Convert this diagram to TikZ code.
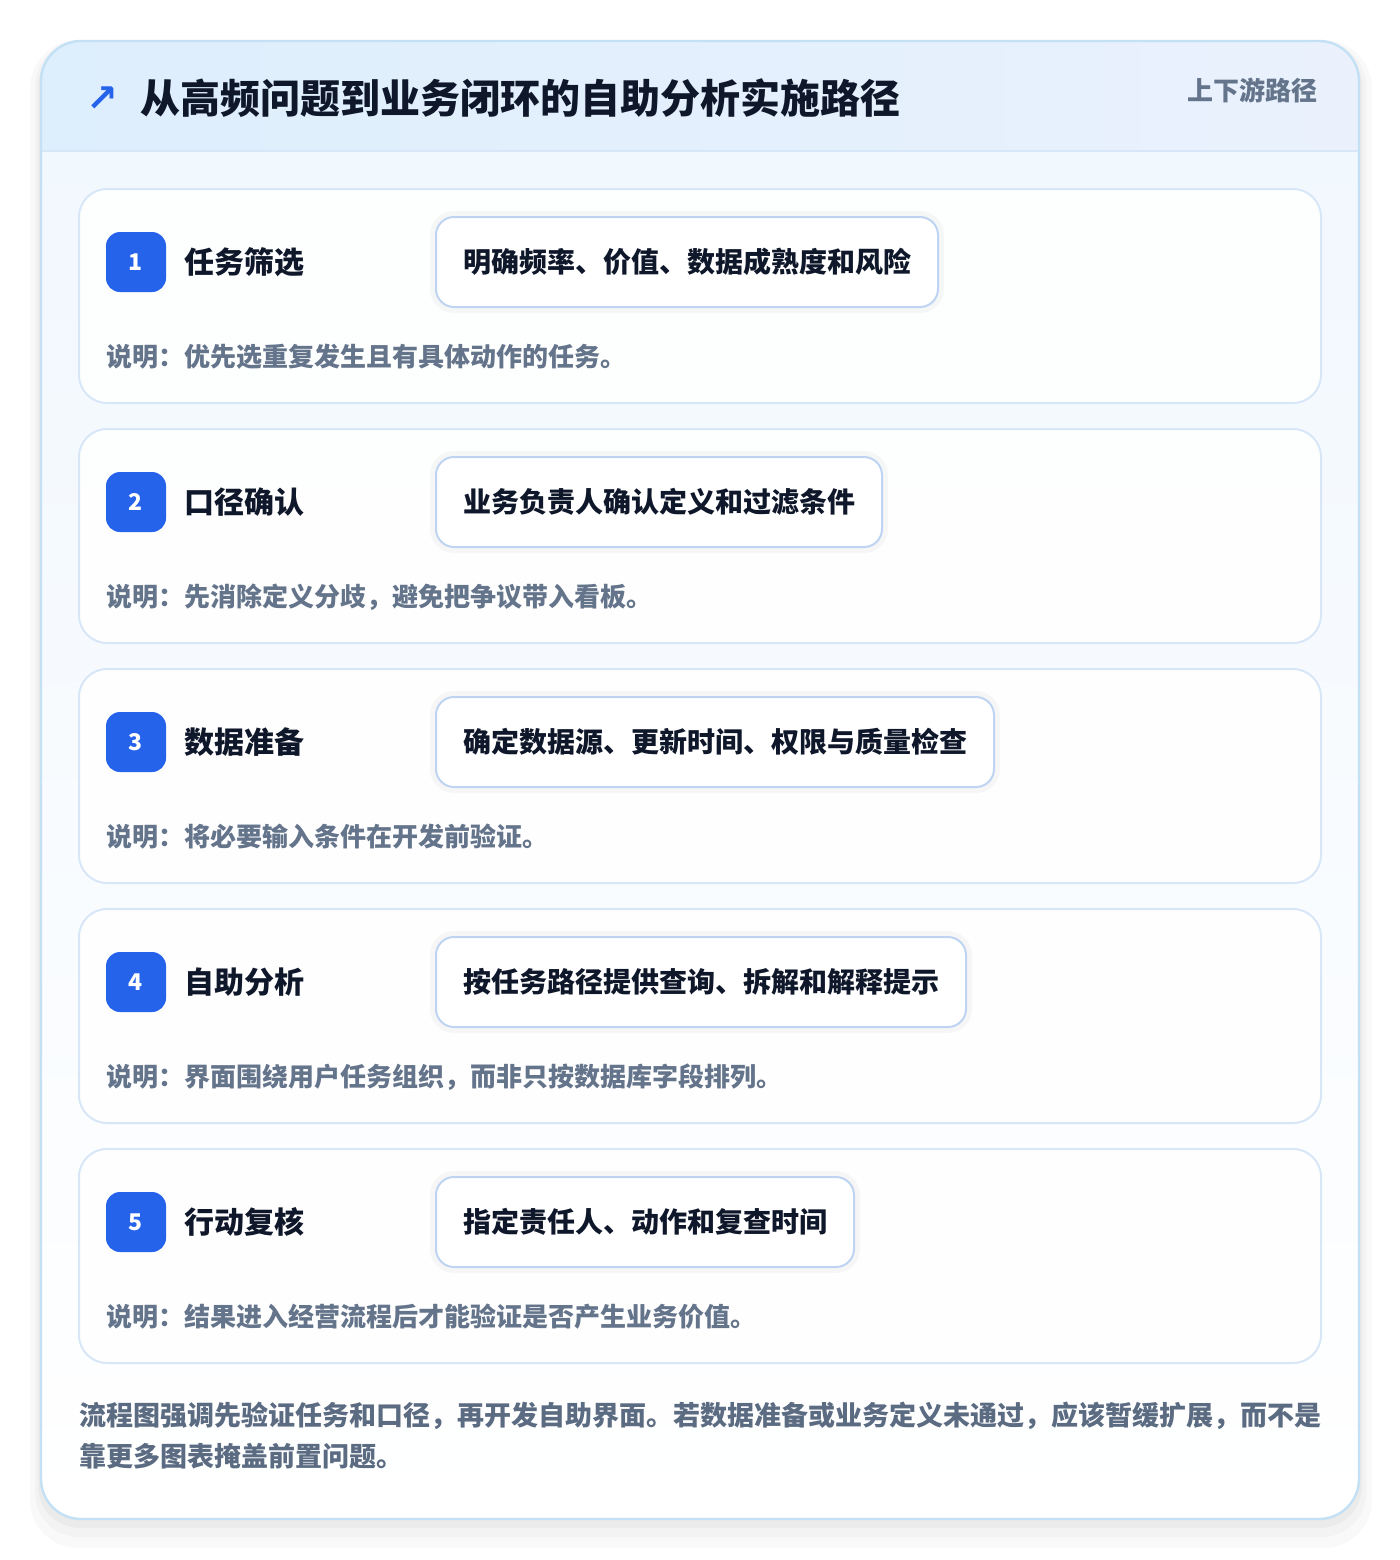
\documentclass[tikz,border=0pt]{standalone}
\usepackage{fontspec}
\newfontfamily\cjk{Noto Sans CJK SC}
\newfontfamily\symfont{DejaVu Sans}
\usetikzlibrary{positioning}
\definecolor{stepblue}{HTML}{2563EB}
\definecolor{titleink}{HTML}{0F172A}
\definecolor{noteink}{HTML}{64748B}
\definecolor{footink}{HTML}{5B6B82}
\definecolor{outerline}{HTML}{C3E0F4}
\definecolor{cardline}{HTML}{D8E7F7}
\definecolor{pillline}{HTML}{BFD4F2}
\definecolor{headleft}{HTML}{DDEEFC}
\definecolor{headright}{HTML}{EAF1FD}
\definecolor{bodytop}{HTML}{F0F7FE}
\tikzset{
  stepcard/.style={draw=cardline, line width=1pt, rounded corners=14pt, fill=white, fill opacity=0.9},
  badge/.style={fill=stepblue, rounded corners=7pt, minimum size=30pt, inner sep=0pt,
    text=white, font=\cjk\bfseries\fontsize{11.5}{11.5}\selectfont},
  steptitle/.style={inner sep=0pt, text=titleink, font=\cjk\bfseries\fontsize{15}{15}\selectfont},
  pill/.style={draw=pillline, line width=1pt, fill=white, rounded corners=9pt, minimum height=45pt,
    inner xsep=13.5pt, anchor=west, text=titleink, font=\cjk\bfseries\fontsize{14}{14}\selectfont,
    preaction={draw=black, draw opacity=0.03, line width=6pt}},
  stepnote/.style={anchor=west, inner sep=0pt, text=noteink, font=\cjk\bfseries\fontsize{13}{13}\selectfont},
}
\begin{document}
\begin{tikzpicture}[x={(0.5pt,0)}, y={(0,-0.5pt)}]
            \useasboundingbox[fill=white] (0,0) rectangle (1400,1560);
            % soft shadow round the panel
            \fill[black, opacity=0.025, rounded corners=24pt] (30,40) rectangle (1372,1548);
            \fill[black, opacity=0.025, rounded corners=22pt] (35,42) rectangle (1366,1537);
            \fill[black, opacity=0.03, rounded corners=21pt] (38,44) rectangle (1362,1528);
            % panel
            \fill[top color=bodytop, bottom color=white, rounded corners=20pt] (41,41) rectangle (1359,1519);
            \begin{scope}
              \clip[rounded corners=20pt] (41,41) rectangle (1359,1519);
              \fill[left color=headleft, right color=headright] (41,41) rectangle (1359,151);
            \end{scope}
            \draw[cardline, line width=1pt] (41,151) -- (1359,151);
            \draw[outerline, line width=1.2pt, rounded corners=20pt] (41,41) rectangle (1359,1519);
            % header
            \node[text=stepblue, inner sep=0pt, font=\symfont\bfseries\fontsize{19}{19}\selectfont] (icon) at (102,99) {↗};
            \node[anchor=west, inner sep=0pt, text=titleink, font=\cjk\bfseries\fontsize{20}{20}\selectfont] (title) at (140,98) {从高频问题到业务闭环的自助分析实施路径};
            \node[anchor=east, inner sep=0pt, text=noteink, font=\cjk\bfseries\fontsize{13}{13}\selectfont] (tag) at (1318,90) {上下游路径};
            % step 1
            \draw[stepcard] (79,189) rectangle (1321,403);
            \node[badge] (b1) at (136,262) {1};
            \node[steptitle, right=9pt of b1] (t1) {任务筛选};
            \node[pill] (p1) at (435,262) {明确频率、价值、数据成熟度和风险};
            \node[stepnote] (n1) at (106,357) {说明：优先选重复发生且有具体动作的任务。};
            % step 2
            \draw[stepcard] (79,429) rectangle (1321,643);
            \node[badge] (b2) at (136,502) {2};
            \node[steptitle, right=9pt of b2] (t2) {口径确认};
            \node[pill] (p2) at (435,502) {业务负责人确认定义和过滤条件};
            \node[stepnote] (n2) at (106,597) {说明：先消除定义分歧，避免把争议带入看板。};
            % step 3
            \draw[stepcard] (79,669) rectangle (1321,883);
            \node[badge] (b3) at (136,742) {3};
            \node[steptitle, right=9pt of b3] (t3) {数据准备};
            \node[pill] (p3) at (435,742) {确定数据源、更新时间、权限与质量检查};
            \node[stepnote] (n3) at (106,837) {说明：将必要输入条件在开发前验证。};
            % step 4
            \draw[stepcard] (79,909) rectangle (1321,1123);
            \node[badge] (b4) at (136,982) {4};
            \node[steptitle, right=9pt of b4] (t4) {自助分析};
            \node[pill] (p4) at (435,982) {按任务路径提供查询、拆解和解释提示};
            \node[stepnote] (n4) at (106,1077) {说明：界面围绕用户任务组织，而非只按数据库字段排列。};
            % step 5
            \draw[stepcard] (79,1149) rectangle (1321,1363);
            \node[badge] (b5) at (136,1222) {5};
            \node[steptitle, right=9pt of b5] (t5) {行动复核};
            \node[pill] (p5) at (435,1222) {指定责任人、动作和复查时间};
            \node[stepnote] (n5) at (106,1317) {说明：结果进入经营流程后才能验证是否产生业务价值。};
            % footer
            \node[anchor=north west, inner sep=0pt, align=left, text=footink, font=\cjk\bfseries\fontsize{13.5}{20.5}\selectfont] (foot) at (79,1402) {流程图强调先验证任务和口径，再开发自助界面。若数据准备或业务定义未通过，应该暂缓扩展，而不是\\靠更多图表掩盖前置问题。};
        \end{tikzpicture}
\end{document}
